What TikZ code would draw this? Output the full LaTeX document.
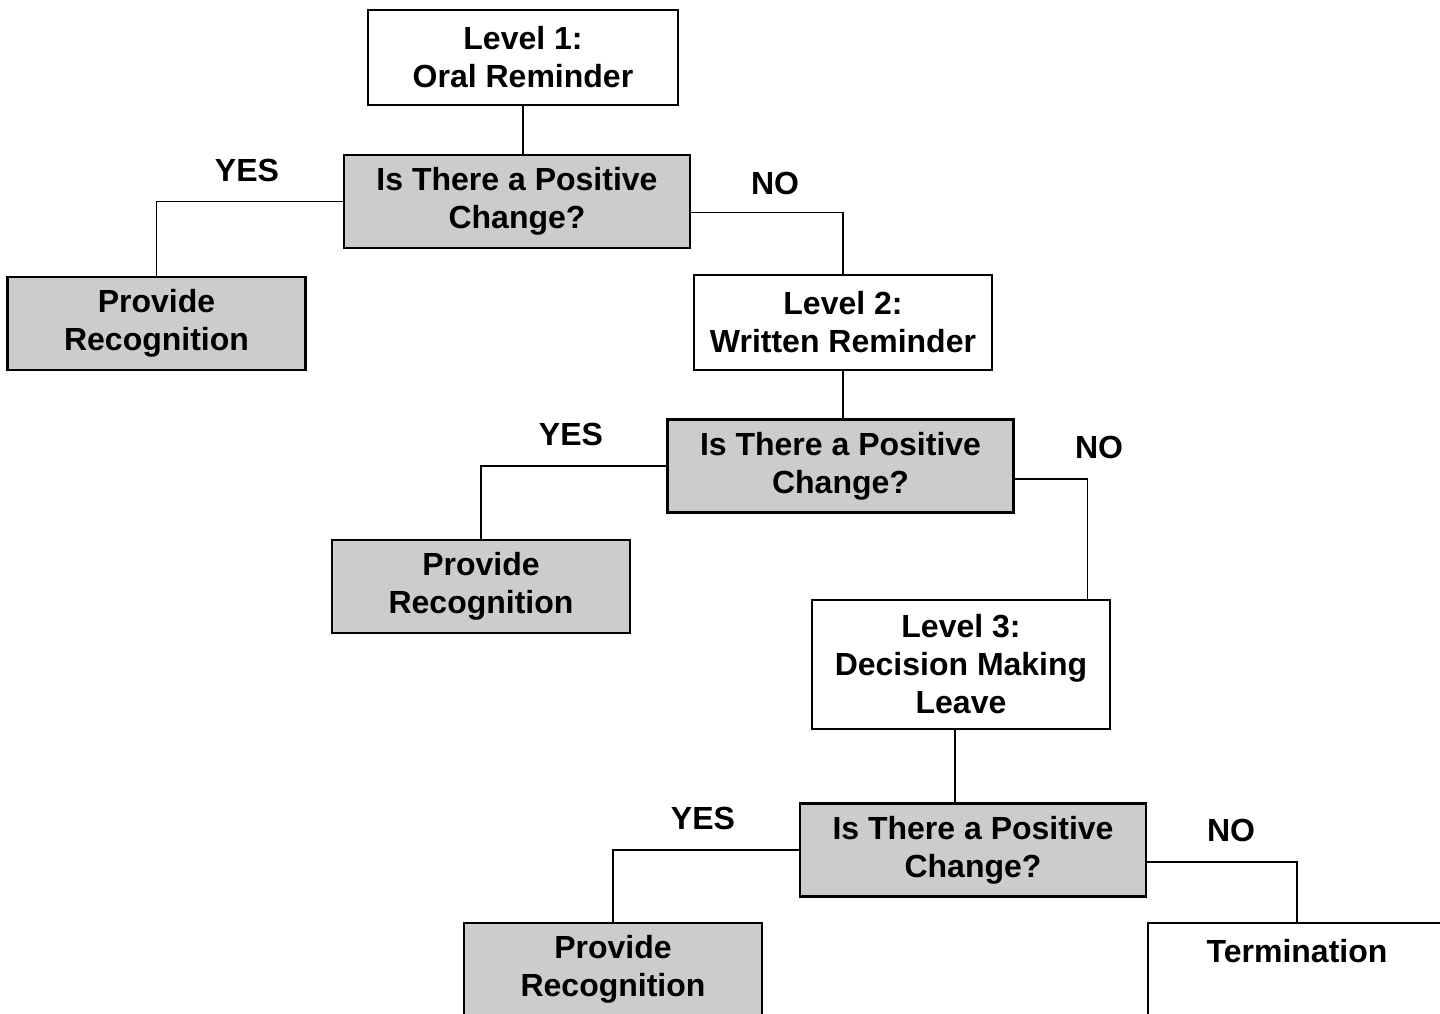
\documentclass[tikz,border=0pt]{standalone}
\usepackage{fontspec}
\setmainfont{Liberation Sans}
\usetikzlibrary{calc,positioning}

\begin{document}
\begin{tikzpicture}[x=0.5pt,y=-0.5pt,
  box/.style={draw,line width=1.4pt,align=center,inner sep=0pt,
    font=\fontsize{16}{19}\selectfont\bfseries},
  level/.style={box,fill=white,minimum width=149pt,minimum height=47.5pt},
  check/.style={box,fill=black!20,minimum width=173pt,minimum height=46.5pt},
  reward/.style={box,fill=black!20,minimum width=149pt,minimum height=46.5pt},
  link/.style={line width=0.7pt},
  answer/.style={font=\fontsize{16}{19}\selectfont\bfseries}]
\useasboundingbox (0,0) rectangle (1440,1013);
\clip (0,0) rectangle (1440,1013);
% ---- level 1 ----
\node[level,minimum width=155pt] (l1) at (523,57.5) {Level 1:\\Oral Reminder};
\node[check] (q1) at (517,201.5) {Is There a Positive\\Change?};
\node[reward] (pr1) at (156.5,323.5) {Provide\\Recognition};
\draw[link] (l1.south) -- (l1.south |- q1.north);
\draw[link] (q1.west) -| (pr1.north);
\node[answer] (yes1) at (247,170) {YES};
\node[answer] (no1) at (775,183) {NO};
% ---- level 2 ----
\node[level] (l2) at (843,322.5) {Level 2:\\Written Reminder};
\node[check] (q2) at (840.5,466) {Is There a Positive\\Change?};
\node[reward] (pr2) at (481,586.5) {Provide\\Recognition};
\draw[link] ($(q1.east)+(0,11)$) -| (l2.north);
\draw[link] (l2.south) -- (l2.south |- q2.north);
\draw[link] (q2.west) -| (pr2.north);
\node[answer] (yes2) at (571,434) {YES};
\node[answer] (no2) at (1099,447) {NO};
% ---- level 3 ----
\node[level,minimum height=64.5pt] (l3) at (961,664.5) {Level 3:\\Decision Making\\Leave};
\coordinate (l3in) at ($(l3.north east)+(-24,0)$);
\coordinate (l3out) at ($(l3.south)+(-6,0)$);
\node[check] (q3) at (973,850) {Is There a Positive\\Change?};
\node[reward] (pr3) at (613,969.5) {Provide\\Recognition};
\node[level,minimum height=46.5pt] (term) at (1297,969.5) {Termination\\~};
\draw[link] ($(q2.east)+(0,13)$) -| (l3in);
\draw[link] (l3out) -- (l3out |- q3.north);
\draw[link] (q3.west) -| (pr3.north);
\draw[link] ($(q3.east)+(0,12)$) -| (term.north);
\node[answer] (yes3) at (703,818) {YES};
\node[answer] (no3) at (1231,830) {NO};
\end{tikzpicture}
\end{document}
